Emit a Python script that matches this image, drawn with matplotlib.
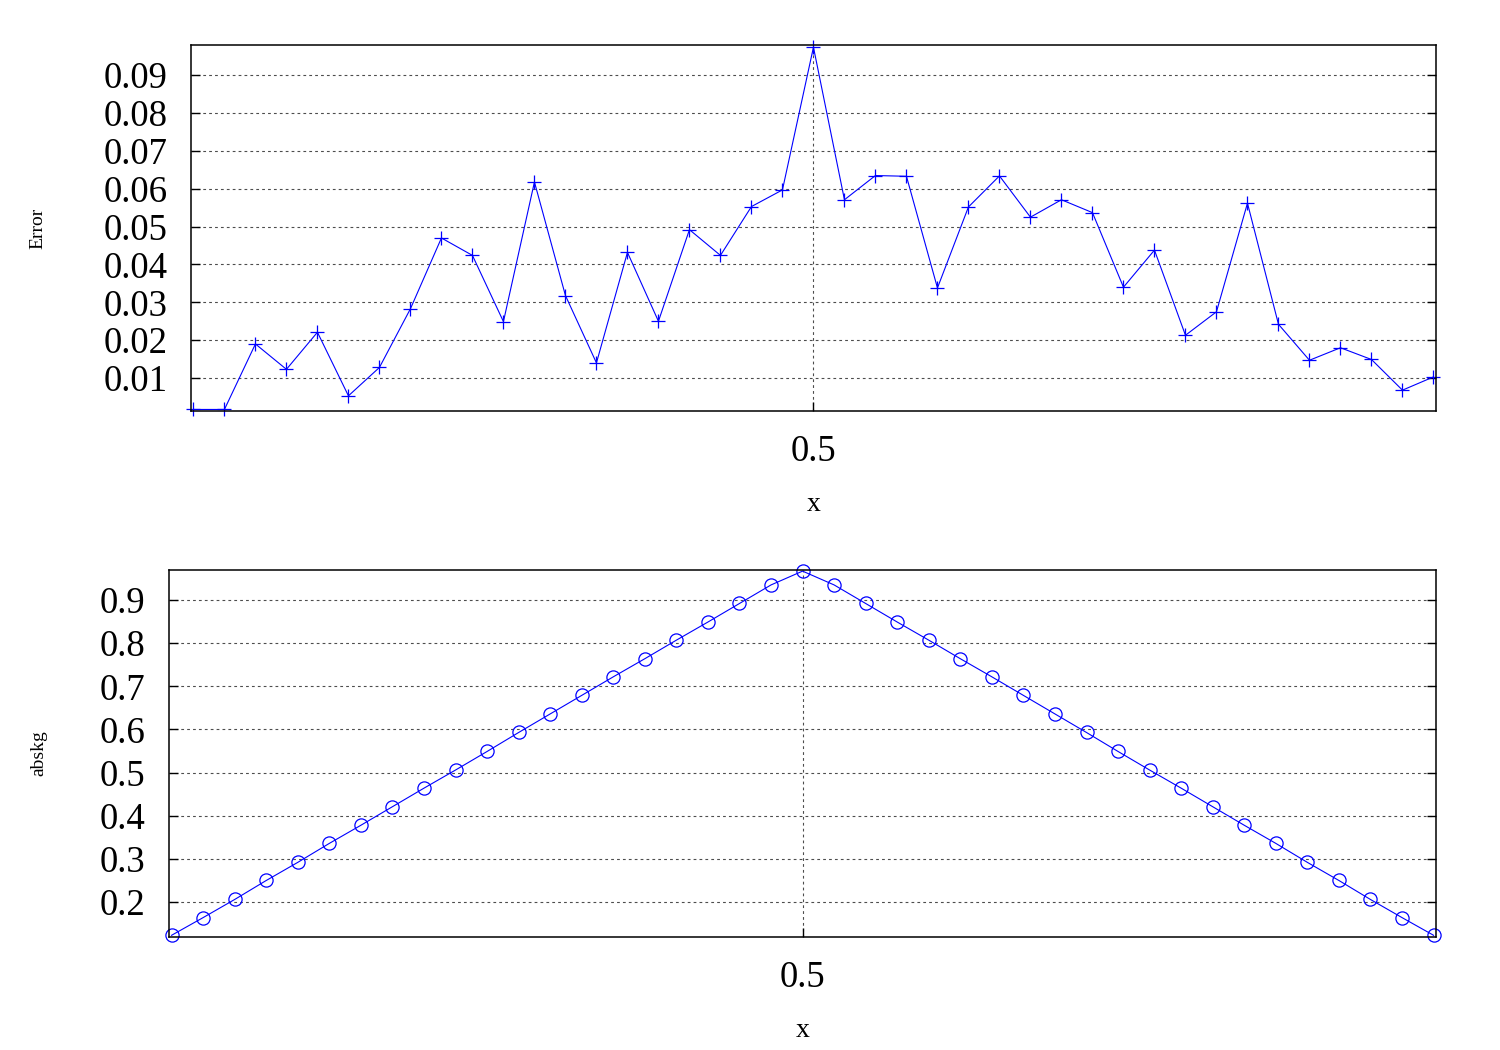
import matplotlib
matplotlib.use("Agg")
import matplotlib.pyplot as plt

plt.rcParams['font.family'] = ['Liberation Serif', 'DejaVu Serif']

# x positions of the samples (0 .. 1, 41 points)
x = [0.0, 0.025, 0.05, 0.075, 0.1, 0.125, 0.15, 0.175, 0.2, 0.225,
     0.25, 0.275, 0.3, 0.325, 0.35, 0.375, 0.4, 0.425, 0.45, 0.475,
     0.5, 0.525, 0.55, 0.575, 0.6, 0.625, 0.65, 0.675, 0.7, 0.725,
     0.75, 0.775, 0.8, 0.825, 0.85, 0.875, 0.9, 0.925, 0.95, 0.975, 1.0]

error = [0.0017, 0.0017, 0.0190, 0.0123, 0.0221, 0.0053, 0.0128, 0.0283, 0.0470, 0.0424,
         0.0249, 0.0618, 0.0318, 0.0140, 0.0432, 0.0250, 0.0492, 0.0424, 0.0553, 0.0597,
         0.0974, 0.0571, 0.0635, 0.0633, 0.0338, 0.0552, 0.0634, 0.0525, 0.0571, 0.0537,
         0.0340, 0.0438, 0.0213, 0.0275, 0.0562, 0.0242, 0.0147, 0.0180, 0.0149, 0.0068,
         0.0103]

abskg = [0.123, 0.164, 0.206, 0.250, 0.292, 0.336, 0.378, 0.421, 0.464, 0.506,
         0.549, 0.593, 0.636, 0.679, 0.722, 0.764, 0.807, 0.849, 0.892, 0.935,
         0.967, 0.935, 0.892, 0.849, 0.807, 0.764, 0.722, 0.679, 0.636, 0.593,
         0.549, 0.506, 0.464, 0.421, 0.378, 0.336, 0.292, 0.250, 0.206, 0.164,
         0.123]

err_ticks = [0.01, 0.02, 0.03, 0.04, 0.05, 0.06, 0.07, 0.08, 0.09]
err_labels = ['0.01', '0.02', '0.03', '0.04', '0.05', '0.06', '0.07', '0.08', '0.09']
abs_ticks = [0.2, 0.3, 0.4, 0.5, 0.6, 0.7, 0.8, 0.9]
abs_labels = ['0.2', '0.3', '0.4', '0.5', '0.6', '0.7', '0.8', '0.9']

fig = plt.figure(figsize=(15, 10.5), dpi=100)

ax1 = fig.add_axes([0.1273, 0.6086, 0.83, 0.3486])
ax2 = fig.add_axes([0.1127, 0.1076, 0.8447, 0.3495])


def style(ax, yticks, ylabels, ylabel, ylab_x):
    ax.set_xlim(-0.002, 1.002)
    ax.set_xticks([0.5])
    ax.set_xticklabels(['0.5'])
    ax.set_yticks(yticks)
    ax.set_yticklabels(ylabels)
    ax.tick_params(axis='both', direction='in', length=6.5, width=1,
                   labelsize=26.5, pad=17, right=True, top=False)
    ax.grid(True, linestyle=(0, (2.5, 2.8)), color='0.3', linewidth=0.8)
    for s in ax.spines.values():
        s.set_linewidth(1.1)
    ax.set_xlabel('x', fontsize=20, va='center')
    ax.xaxis.set_label_coords(0.5, -0.255)
    ax.set_ylabel(ylabel, fontsize=14, va='center')
    ax.yaxis.set_label_coords(ylab_x, 0.5)


ax1.plot(x, error, color='blue', linewidth=0.8, marker='+',
         markersize=10, markeredgewidth=0.9, clip_on=False)
ax1.set_ylim(min(error) - 0.0004, max(error) + 0.0006)
style(ax1, err_ticks, err_labels, 'Error', -0.123)

ax2.plot(x, abskg, color='blue', linewidth=0.8, marker='o',
         markersize=9.5, markerfacecolor='none', markeredgewidth=0.9,
         clip_on=False)
ax2.set_ylim(min(abskg) - 0.004, max(abskg) + 0.0025)
style(ax2, abs_ticks, abs_labels, 'abskg', -0.103)

fig.savefig('out.png', dpi=100)
